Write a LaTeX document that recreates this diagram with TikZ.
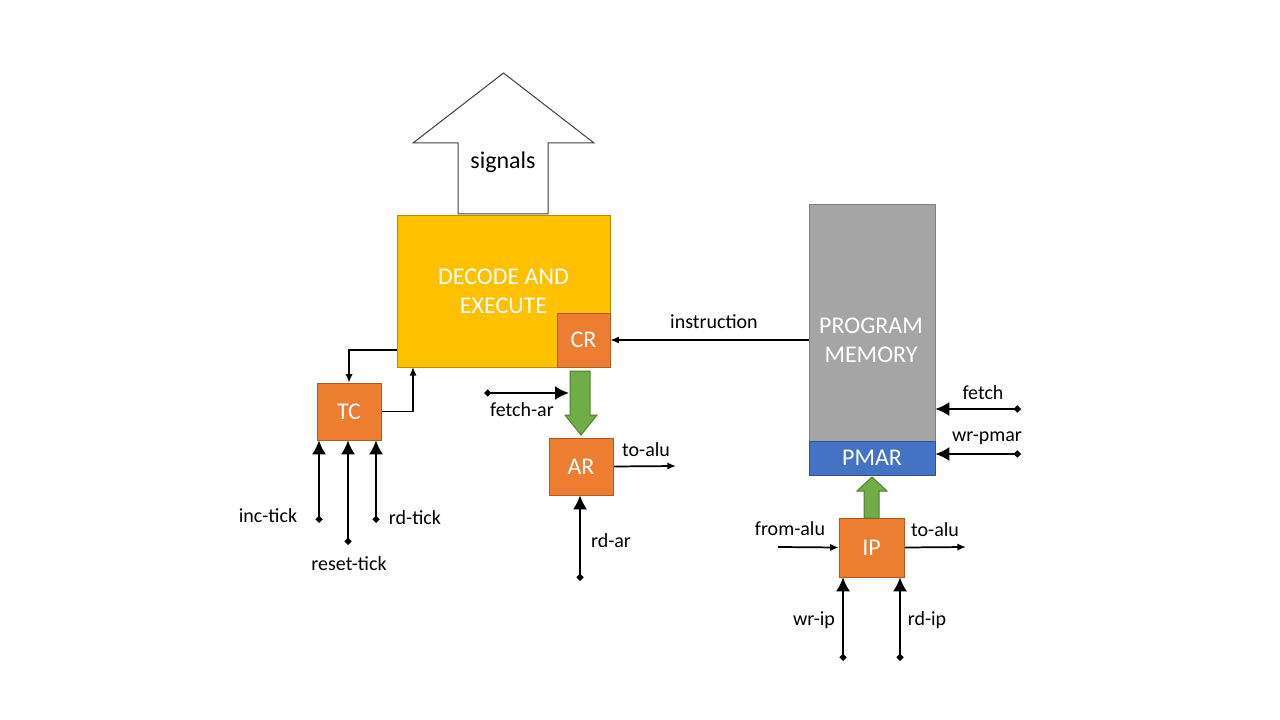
\documentclass[tikz,border=0pt]{standalone}
\usepackage{fontspec}
\setmainfont{Carlito}
\usetikzlibrary{arrows.meta,positioning}
\pgfdeclarelayer{edgelayer}
\pgfdeclarelayer{nodelayer}
\pgfsetlayers{edgelayer,nodelayer,main}
\definecolor{orng}{HTML}{ED7D31}
\definecolor{orngdark}{HTML}{AE5A21}
\definecolor{gold}{HTML}{FFC000}
\definecolor{golddark}{HTML}{BC8C00}
\definecolor{memgray}{HTML}{A5A5A5}
\definecolor{memdark}{HTML}{7F7F7F}
\definecolor{pmblue}{HTML}{4472C4}
\definecolor{pmbluedark}{HTML}{2F528F}
\definecolor{bus}{HTML}{70AD47}
\definecolor{busdark}{HTML}{507E32}
\tikzstyle{reg}=[rectangle,fill=orng,draw=orngdark,text=white,inner sep=0pt,font=\fontsize{18}{21.6}\selectfont,minimum width=48pt,minimum height=42.75pt]
\tikzstyle{unit}=[rectangle,inner sep=0pt,text=white,align=center,font=\fontsize{18}{21.6}\selectfont]
\tikzstyle{sigline}=[{Diamond[length=5.5pt,width=5.5pt]}-{Latex[length=10.5pt,width=10.5pt]},line width=1.5pt]
\tikzstyle{dataline}=[-{Latex[length=6.5pt,width=5.5pt]},line width=1.3pt]
\tikzstyle{busarrow}=[fill=bus,draw=busdark,line width=0.75pt]
\tikzstyle{lbl}=[font=\fontsize{15}{18}\selectfont]

\begin{document}
\begin{tikzpicture}[x=0.75pt,y=-0.75pt]
	\useasboundingbox (0,0) rectangle (1280,720);
	\begin{pgfonlayer}{nodelayer}
		\node [style=unit,fill=gold,draw=golddark,minimum width=159.75pt,minimum height=114pt] (DEC) at (503.5,291) {DECODE AND\\EXECUTE};
		\node [style=reg,minimum width=39.75pt,minimum height=40.5pt] (CR) at (583.5,340) {CR};
		\node [style=unit,fill=memgray,draw=memdark,minimum width=94.5pt,minimum height=177.75pt] (PM) at (872,322.5) {};
		\node [style=unit] (PMtext) at (871,340) {PROGRAM\\MEMORY};
		\node [style=unit,fill=pmblue,draw=pmbluedark,minimum width=94.5pt,minimum height=25.5pt] (PMAR) at (872,458) {PMAR};
		\node [style=reg] (TC) at (349,411.5) {TC};
		\node [style=reg] (AR) at (581,466.5) {AR};
		\node [style=reg,minimum width=48.75pt,minimum height=44.25pt] (IP) at (871.5,547.5) {IP};
	\end{pgfonlayer}
	\coordinate (inctick) at (319,523);
	\coordinate (resettick) at (348,545);
	\coordinate (rdtick) at (376,523);
	\coordinate (decleft) at (397,350);
	\coordinate (decbottom) at (413,367);
	\coordinate (fetchar) at (484,393);
	\coordinate (fetcharend) at (569,393);
	\coordinate (aralu) at (676,466);
	\coordinate (rdar) at (580,581);
	\coordinate (fetch) at (1021,409);
	\coordinate (wrpmar) at (1021,454);
	\coordinate (fromalu) at (778,547);
	\coordinate (ipalu) at (966,547);
	\coordinate (wrip) at (843,661);
	\coordinate (rdip) at (900,661);
	\begin{pgfonlayer}{edgelayer}
		\draw [style=dataline] (decleft) -| (TC.north);
		\draw [style=dataline] (TC.east) -| (decbottom);
		\draw [style=sigline] (inctick) -- (inctick |- TC.south);
		\draw [style=sigline] (resettick) -- (resettick |- TC.south);
		\draw [style=sigline] (rdtick) -- (rdtick |- TC.south);
		\draw [style=dataline] (PM.west |- CR.east) -- (CR.east);
		\draw [style=sigline] (fetchar) -- (fetcharend);
		\draw [style=dataline] (AR.east) -- (aralu);
		\draw [style=sigline] (rdar) -- (rdar |- AR.south);
		\draw [style=sigline] (fetch) -- (fetch -| PM.east);
		\draw [style=sigline] (wrpmar) -- (wrpmar -| PMAR.east);
		\draw [style=dataline] (fromalu) -- (IP.west);
		\draw [style=dataline] (IP.east) -- (ipalu);
		\draw [style=sigline] (wrip) -- (wrip |- IP.south);
		\draw [style=sigline] (rdip) -- (rdip |- IP.south);
	\end{pgfonlayer}
	% buses
	\draw [style=busarrow] (570,371) -- (590,371) -- (590,415) -- (597,415) -- (581,435) -- (565,415) -- (570,415) -- cycle;
	\draw [style=busarrow] (864,518) -- (879,518) -- (879,491) -- (887,491) -- (872,477) -- (857,491) -- (864,491) -- cycle;
	\draw [fill=white,draw=black!75,line width=0.75pt] (458,214) -- (458,143) -- (413,143) -- (503.5,73) -- (594,143) -- (548,143) -- (548,214) -- cycle;
	\node [font=\fontsize{18}{21.6}\selectfont] (signals) at (503,162) {signals};
	% labels
	\node [style=lbl] (inclbl) at (268,516) {inc-tick};
	\node [style=lbl] (resetlbl) at (349,564) {reset-tick};
	\node [style=lbl] (rdticklbl) at (415,518) {rd-tick};
	\node [style=lbl] (instrlbl) at (714,322) {instruction};
	\node [style=lbl] (fetcharlbl) at (522,410) {fetch-ar};
	\node [style=lbl] (aralulbl) at (646,450) {to-alu};
	\node [style=lbl] (rdarlbl) at (611,541) {rd-ar};
	\node [style=lbl] (fetchlbl) at (983,393) {fetch};
	\node [style=lbl] (wrpmarlbl) at (987,438) {wr-pmar};
	\node [style=lbl] (fromalulbl) at (790,529) {from-alu};
	\node [style=lbl] (ipalulbl) at (935,530) {to-alu};
	\node [style=lbl] (wriplbl) at (814,620) {wr-ip};
	\node [style=lbl] (rdiplbl) at (927,620) {rd-ip};
\end{tikzpicture}
\end{document}
